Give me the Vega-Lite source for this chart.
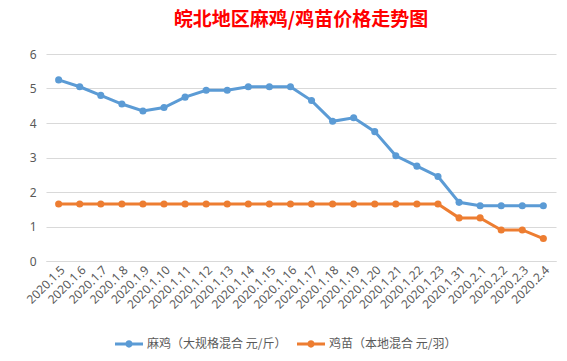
{
  "$schema": "https://vega.github.io/schema/vega-lite/v6.json",
  "width": 510,
  "height": 207,
  "padding": {"left": 24, "top": 11, "right": 18, "bottom": 5},
  "background": "white",
  "title": {
    "text": "皖北地区麻鸡/鸡苗价格走势图",
    "color": "#FF0000",
    "font": "Noto Sans CJK SC",
    "fontSize": 19,
    "fontWeight": "bold",
    "anchor": "middle",
    "offset": 18
  },
  "data": {
    "values": [
      {"date": "2020.1.5", "series": "麻鸡（大规格混合 元/斤）", "price": 5.25},
      {"date": "2020.1.6", "series": "麻鸡（大规格混合 元/斤）", "price": 5.05},
      {"date": "2020.1.7", "series": "麻鸡（大规格混合 元/斤）", "price": 4.8},
      {"date": "2020.1.8", "series": "麻鸡（大规格混合 元/斤）", "price": 4.55},
      {"date": "2020.1.9", "series": "麻鸡（大规格混合 元/斤）", "price": 4.35},
      {"date": "2020.1.10", "series": "麻鸡（大规格混合 元/斤）", "price": 4.45},
      {"date": "2020.1.11", "series": "麻鸡（大规格混合 元/斤）", "price": 4.75},
      {"date": "2020.1.12", "series": "麻鸡（大规格混合 元/斤）", "price": 4.95},
      {"date": "2020.1.13", "series": "麻鸡（大规格混合 元/斤）", "price": 4.95},
      {"date": "2020.1.14", "series": "麻鸡（大规格混合 元/斤）", "price": 5.05},
      {"date": "2020.1.15", "series": "麻鸡（大规格混合 元/斤）", "price": 5.05},
      {"date": "2020.1.16", "series": "麻鸡（大规格混合 元/斤）", "price": 5.05},
      {"date": "2020.1.17", "series": "麻鸡（大规格混合 元/斤）", "price": 4.65},
      {"date": "2020.1.18", "series": "麻鸡（大规格混合 元/斤）", "price": 4.05},
      {"date": "2020.1.19", "series": "麻鸡（大规格混合 元/斤）", "price": 4.15},
      {"date": "2020.1.20", "series": "麻鸡（大规格混合 元/斤）", "price": 3.75},
      {"date": "2020.1.21", "series": "麻鸡（大规格混合 元/斤）", "price": 3.05},
      {"date": "2020.1.22", "series": "麻鸡（大规格混合 元/斤）", "price": 2.75},
      {"date": "2020.1.23", "series": "麻鸡（大规格混合 元/斤）", "price": 2.45},
      {"date": "2020.1.31", "series": "麻鸡（大规格混合 元/斤）", "price": 1.7},
      {"date": "2020.2.1", "series": "麻鸡（大规格混合 元/斤）", "price": 1.6},
      {"date": "2020.2.2", "series": "麻鸡（大规格混合 元/斤）", "price": 1.6},
      {"date": "2020.2.3", "series": "麻鸡（大规格混合 元/斤）", "price": 1.6},
      {"date": "2020.2.4", "series": "麻鸡（大规格混合 元/斤）", "price": 1.6},
      {"date": "2020.1.5", "series": "鸡苗（本地混合 元/羽）", "price": 1.65},
      {"date": "2020.1.6", "series": "鸡苗（本地混合 元/羽）", "price": 1.65},
      {"date": "2020.1.7", "series": "鸡苗（本地混合 元/羽）", "price": 1.65},
      {"date": "2020.1.8", "series": "鸡苗（本地混合 元/羽）", "price": 1.65},
      {"date": "2020.1.9", "series": "鸡苗（本地混合 元/羽）", "price": 1.65},
      {"date": "2020.1.10", "series": "鸡苗（本地混合 元/羽）", "price": 1.65},
      {"date": "2020.1.11", "series": "鸡苗（本地混合 元/羽）", "price": 1.65},
      {"date": "2020.1.12", "series": "鸡苗（本地混合 元/羽）", "price": 1.65},
      {"date": "2020.1.13", "series": "鸡苗（本地混合 元/羽）", "price": 1.65},
      {"date": "2020.1.14", "series": "鸡苗（本地混合 元/羽）", "price": 1.65},
      {"date": "2020.1.15", "series": "鸡苗（本地混合 元/羽）", "price": 1.65},
      {"date": "2020.1.16", "series": "鸡苗（本地混合 元/羽）", "price": 1.65},
      {"date": "2020.1.17", "series": "鸡苗（本地混合 元/羽）", "price": 1.65},
      {"date": "2020.1.18", "series": "鸡苗（本地混合 元/羽）", "price": 1.65},
      {"date": "2020.1.19", "series": "鸡苗（本地混合 元/羽）", "price": 1.65},
      {"date": "2020.1.20", "series": "鸡苗（本地混合 元/羽）", "price": 1.65},
      {"date": "2020.1.21", "series": "鸡苗（本地混合 元/羽）", "price": 1.65},
      {"date": "2020.1.22", "series": "鸡苗（本地混合 元/羽）", "price": 1.65},
      {"date": "2020.1.23", "series": "鸡苗（本地混合 元/羽）", "price": 1.65},
      {"date": "2020.1.31", "series": "鸡苗（本地混合 元/羽）", "price": 1.25},
      {"date": "2020.2.1", "series": "鸡苗（本地混合 元/羽）", "price": 1.25},
      {"date": "2020.2.2", "series": "鸡苗（本地混合 元/羽）", "price": 0.9},
      {"date": "2020.2.3", "series": "鸡苗（本地混合 元/羽）", "price": 0.9},
      {"date": "2020.2.4", "series": "鸡苗（本地混合 元/羽）", "price": 0.65}
    ]
  },
  "mark": {"type": "line", "strokeWidth": 3, "point": {"size": 50, "filled": true, "opacity": 1}},
  "encoding": {
    "x": {
      "field": "date",
      "type": "ordinal",
      "sort": null,
      "title": null,
      "scale": {"type": "point", "padding": 0.6},
      "axis": {
        "labelAngle": -45,
        "labelFont": "Noto Sans",
        "labelFontSize": 12,
        "labelColor": "#595959",
        "ticks": false,
        "labelPadding": 3,
        "domainColor": "#d9d9d9",
        "grid": false
      }
    },
    "y": {
      "field": "price",
      "type": "quantitative",
      "title": null,
      "scale": {"domain": [0, 6]},
      "axis": {
        "values": [0, 1, 2, 3, 4, 5, 6],
        "domain": false,
        "ticks": false,
        "labelPadding": 10,
        "labelFont": "Noto Sans",
        "labelFontSize": 12,
        "labelColor": "#595959",
        "gridColor": "#d9d9d9"
      }
    },
    "color": {
      "field": "series",
      "type": "nominal",
      "sort": null,
      "scale": {"range": ["#5B9BD5", "#ED7D31"]},
      "legend": {
        "orient": "none",
        "legendX": 69,
        "legendY": 276,
        "direction": "horizontal",
        "title": null,
        "labelFont": "Noto Sans CJK SC",
        "labelFontSize": 12,
        "labelColor": "#595959",
        "labelOffset": 4,
        "columnPadding": 10,
        "symbolType": "M-1,-0.11H1V0.11H-1ZM0.26,0A0.26,0.26 0 1,1 -0.26,0A0.26,0.26 0 1,1 0.26,0Z",
        "symbolSize": 784,
        "symbolStrokeWidth": 0
      }
    }
  },
  "config": {"view": {"stroke": null}}
}
